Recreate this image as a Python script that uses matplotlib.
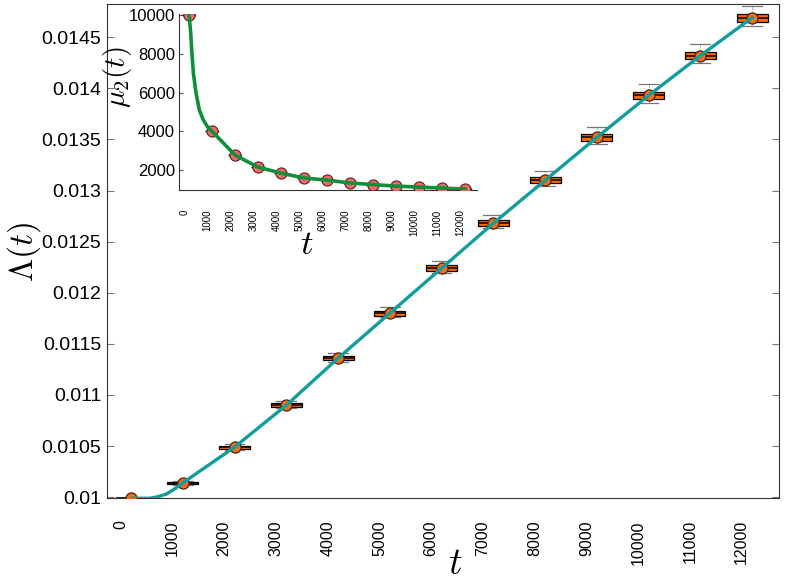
import numpy as np
import matplotlib
matplotlib.use("Agg")
import matplotlib.pyplot as plt

plt.rcParams['font.family'] = ['Liberation Sans', 'DejaVu Sans']
plt.rcParams['mathtext.fontset'] = 'cm'

# sample times (boxes sit at t + 200 as in the original figure)
t = [200, 1200, 2200, 3200, 4200, 5200, 6200, 7200, 8200, 9200, 10200, 11200, 12200]
tick_t = [0, 1000, 2000, 3000, 4000, 5000, 6000, 7000, 8000, 9000, 10000, 11000, 12000]

# main panel: Lambda(t) medians and box/whisker spread
lam = [0.00999, 0.01014, 0.01049, 0.0109, 0.01136, 0.0118, 0.01224,
       0.01268, 0.0131, 0.01352, 0.01393, 0.01432, 0.01469]
box_half = [0.000002, 0.00001, 0.000015, 0.00002, 0.000022, 0.000025, 0.000028,
            0.00003, 0.00003, 0.000033, 0.000035, 0.000036, 0.00004]
whis_up = [0.000005, 0.00002, 0.00003, 0.00004, 0.00005, 0.00006, 0.00007,
           0.00008, 0.00009, 0.0001, 0.00011, 0.00011, 0.00012]
whis_dn = [0.000005, 0.00002, 0.00003, 0.00003, 0.00004, 0.00004, 0.00005,
           0.00005, 0.00006, 0.00006, 0.00007, 0.00007, 0.00008]

# fitted curve
curve_t = [200, 570, 720, 880, 1040] + t[1:]
curve_lam = [0.00999, 0.00999, 0.010005, 0.01003, 0.01008] + lam[1:]

# inset: mu_2(t)
mu2 = [10000, 4000, 2770, 2150, 1840, 1590, 1480, 1330, 1250, 1170, 1120, 1070, 1020]
mu_curve_t = [200, 274, 317, 387, 504, 648, 822, 1039] + t[1:]
mu_curve = [10000, 9070, 8190, 7010, 5975, 5100, 4580, 4170] + mu2[1:]

fig = plt.figure(figsize=(7.89, 5.82), dpi=100)
ax = fig.add_axes([0.1356, 0.1443, 0.8517, 0.8488])

stats = []
for m, h, wu, wd in zip(lam, box_half, whis_up, whis_dn):
    stats.append(dict(med=m, q1=m - h, q3=m + h, whislo=m - wd, whishi=m + wu, fliers=[]))
ax.bxp(stats, positions=t, widths=600, patch_artist=True, manage_ticks=False,
       boxprops=dict(facecolor='#ff6a00', edgecolor='black', linewidth=0.9),
       medianprops=dict(color='black', linewidth=1.1),
       whiskerprops=dict(color='#aaaaaa', linewidth=0.6, linestyle='--'),
       capprops=dict(color='#777777', linewidth=0.9), capwidths=380)
ax.plot(t, lam, 'o', ms=8, mfc='#f07018', mec='#502010', mew=0.9, zorder=4)
ax.plot(curve_t, curve_lam, color='#139c9c', lw=2.4, zorder=5)

ax.set_xlim(-265, 12720)
ax.set_ylim(0.009992, 0.014825)
ax.set_yticks([0.01, 0.0105, 0.011, 0.0115, 0.012, 0.0125, 0.013, 0.0135, 0.014, 0.0145])
ax.set_yticklabels(['0.01', '0.0105', '0.011', '0.0115', '0.012', '0.0125', '0.013',
                    '0.0135', '0.014', '0.0145'], fontsize=14)
ax.set_xticks(tick_t)
ax.set_xticklabels([str(v) for v in tick_t], rotation=90, fontsize=11.5, va='top')
ax.tick_params(axis='x', length=0, pad=16)
ax.tick_params(axis='y', direction='in', length=5, color='#777777', right=True, pad=4)
for s in ax.spines.values():
    s.set_color('#333333')
fig.text(455 / 789, 1 - 564 / 582, '$t$', fontsize=27, ha='center', va='center')
fig.text(24 / 789, 1 - 252 / 582, r'$\Lambda(t)$', fontsize=24, ha='center', va='center',
         rotation=90)

# inset
ins = fig.add_axes([0.2269, 0.6735, 0.3777, 0.3024])
ins_stats = [dict(med=m, q1=m, q3=m, whislo=m, whishi=m, fliers=[]) for m in mu2]
ins.bxp(ins_stats, positions=t, widths=500, manage_ticks=False,
        boxprops=dict(color='black', linewidth=1.0),
        medianprops=dict(color='black', linewidth=1.0),
        whiskerprops=dict(linewidth=0), capprops=dict(linewidth=0))
ins.plot(t, mu2, 'o', ms=8, mfc='#f06a6a', mec='#5a2020', mew=0.8, zorder=4)
ins.plot(mu_curve_t, mu_curve, color='#0e8f3a', lw=2.6, zorder=5)
ins.set_xlim(-235, 12720)
ins.set_ylim(968, 10052)
ins.set_yticks([2000, 4000, 6000, 8000, 10000])
ins.set_yticklabels(['2000', '4000', '6000', '8000', '10000'], fontsize=12)
ins.set_xticks(tick_t)
ins.set_xticklabels([str(v) for v in tick_t], rotation=90, fontsize=7, va='top')
ins.tick_params(axis='x', length=0, pad=14)
ins.tick_params(axis='y', direction='in', length=3, color='#555555', pad=3)
ins.spines['top'].set_visible(False)
ins.spines['right'].set_visible(False)
ins.spines['left'].set_color('#333333')
ins.spines['bottom'].set_color('#333333')
fig.text(307 / 789, 1 - 244 / 582, '$t$', fontsize=25, ha='center', va='center')
fig.text(118 / 789, 1 - 77 / 582, r'$\mu_2(t)$', fontsize=21, ha='center', va='center',
         rotation=90)

fig.savefig('out.png', dpi=100)
